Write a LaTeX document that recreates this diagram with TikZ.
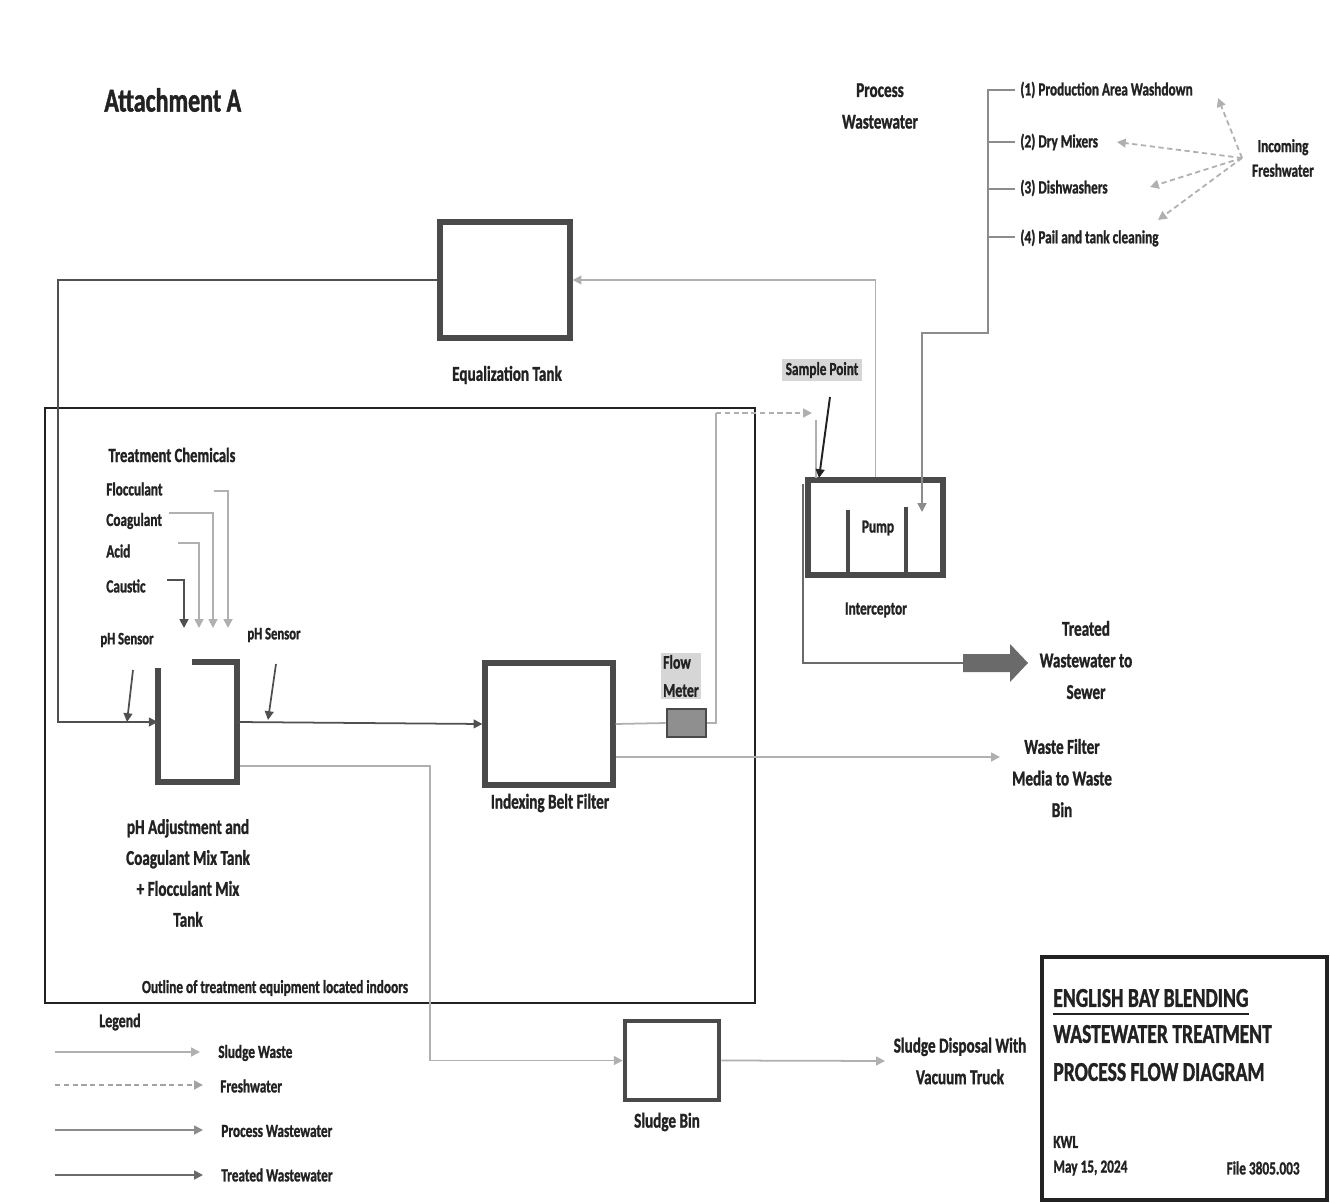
\documentclass[tikz,border=0pt]{standalone}
\usepackage{fontspec}
\setmainfont{Carlito}[FakeStretch=0.72, BoldFeatures={FakeBold=1.2}]
\usetikzlibrary{arrows.meta}
\definecolor{ink}{HTML}{222222}
\definecolor{boxc}{HTML}{4A4A4A}
\definecolor{darkl}{HTML}{505050}
\definecolor{midl}{HTML}{8C8C8C}
\definecolor{lightl}{HTML}{B0B0B0}
\definecolor{treatl}{HTML}{6A6A6A}
\definecolor{labfill}{HTML}{D6D6D6}
\definecolor{fmfill}{HTML}{8F8F8F}
\tikzset{
  lbl/.style={font=\bfseries\fontsize{12}{18}\selectfont, text=ink, inner sep=0pt, align=center},
  sml/.style={font=\bfseries\fontsize{10.5}{14}\selectfont, text=ink, inner sep=0pt},
  ttl/.style={font=\bfseries\fontsize{15.5}{16}\selectfont, text=ink, inner sep=0pt, anchor=west},
  tank/.style={draw=boxc, line width=3pt, inner sep=0pt},
  tip/.style={-{Triangle[length=5pt,width=5pt]}},
  pw/.style={draw=midl, line width=1pt},
  dk/.style={draw=darkl, line width=1pt},
  lt/.style={draw=lightl, line width=1pt},
  tw/.style={draw=treatl, line width=1pt},
  fw/.style={draw=lightl, line width=1pt, dash pattern=on 3pt off 2pt},
}
\begin{document}
\begin{tikzpicture}[x=0.02cm,y=-0.02cm]
\useasboundingbox (0,0) rectangle (1330,1203);
\fill[white] (0,0) rectangle (1330,1203);

% heading
\node[font=\bfseries\fontsize{19}{20}\selectfont, text=ink, inner sep=0pt, anchor=west] (att) at (104,100) {Attachment A};

% outline of indoor equipment
\node[draw=ink, line width=1.3pt, minimum width=14.2cm, minimum height=11.9cm, inner sep=0pt] (outline) at (400,705.5) {};
\node[sml] (outlab) at (275,988) {Outline of treatment equipment located indoors};

% tanks
\node[tank, minimum width=2.6cm, minimum height=2.32cm] (eq) at (505,280) {};
\node[lbl] (eqlab) at (507,375) {Equalization Tank};

\node[tank, minimum width=2.56cm, minimum height=2.44cm] (belt) at (549,724) {};
\node[lbl] (beltlab) at (550,803) {Indexing Belt Filter};

\node[tank, minimum width=2.7cm, minimum height=1.9cm] (int) at (875.5,527.5) {};
\draw[boxc, line width=2pt] (848,510) -- (848,575);
\draw[boxc, line width=2pt] (906,507) -- (906,575);
\node[sml] (pump) at (878,528) {Pump};
\node[sml] (intlab) at (876,610) {Interceptor};

\node[tank, line width=2.6pt, minimum width=1.88cm, minimum height=1.58cm] (bin) at (672,1060.5) {};
\node[lbl] (binlab) at (667,1122) {Sludge Bin};

\node[draw=boxc, fill=fmfill, line width=1.5pt, minimum width=0.78cm, minimum height=0.56cm, inner sep=0pt] (fm) at (686.5,723) {};
\node[font=\bfseries\fontsize{11}{16}\selectfont, text=ink, inner sep=1pt, fill=labfill, align=left] (fmlab) at (681,676) {Flow\\Meter};

% pH adjustment tank (open top)
\node[minimum width=1.58cm, minimum height=2.4cm, inner sep=0pt] (ph) at (197.5,722) {};
\draw[boxc, line width=3pt] (158,668) -- (158,782) -- (237,782) -- (237,662) -- (192,662);
\node[lbl, font=\bfseries\fontsize{12}{17.6}\selectfont] (phlab) at (188,873) {pH Adjustment and\\Coagulant Mix Tank\\+ Flocculant Mix\\Tank};

% treatment chemicals
\node[sml, font=\bfseries\fontsize{11.5}{14}\selectfont] (tchem) at (172,455) {Treatment Chemicals};
\node[sml, anchor=west] (floc) at (106,489) {Flocculant};
\node[sml, anchor=west] (coag) at (106,521) {Coagulant};
\node[sml, anchor=west] (acid) at (106,551) {Acid};
\node[sml, anchor=west] (caus) at (106,586) {Caustic};
\draw[lt,tip] (214,491) -- (228,491) -- (228,628);
\draw[lt,tip] (169,513) -- (213,513) -- (213,628);
\draw[lt,tip] (178,543) -- (199,543) -- (199,628);
\draw[dk,tip] (167,580) -- (184,580) -- (184,628);

% pH sensors
\node[sml, font=\bfseries\fontsize{10}{12}\selectfont] (phs1) at (127,640) {pH Sensor};
\node[sml, font=\bfseries\fontsize{10}{12}\selectfont] (phs2) at (274,635) {pH Sensor};
\draw[dk,tip] (133,670) -- (127,722);
\draw[dk,tip] (276,664) -- (268,720);

% main process line
\draw[dk,tip] (eq.west) -- (58,280) -- (58,722) -- (ph.west);
\draw[dk,tip] (ph.east) -- (belt.west);

% sludge line
\draw[lt,tip] (240,766) -- (430,766) |- (bin.west);
\coordinate (sd) at (885,1061);
\draw[lt,tip] (bin.east) -- (sd);
\node[lbl] (sdlab) at (960,1061) {Sludge Disposal With\\Vacuum Truck};

% waste filter media
\coordinate (wm) at (1000,757);
\draw[lt,tip] (belt.east |- wm) -- (wm);
\node[lbl] (wmlab) at (1062,778) {Waste Filter\\Media to Waste\\Bin};

% flow meter / sample point
\draw[lt] (belt.east) -- (fm.west);
\draw[lt] (fm.east) -- (716,723) -- (716,413);
\coordinate (spin) at (812,413);
\draw[fw,tip] (716,413) -- (spin);
\draw[lt] (816,420) -- (816,478);
\node[sml, fill=labfill, inner sep=2pt] (sp) at (822,370) {Sample Point};
\draw[draw=ink, line width=1.1pt, tip] (830,397) -- (819,478);

% interceptor to equalization tank
\draw[lt,tip] (int.north) -- (int.north |- eq.east) -- (eq.east);

% process wastewater sources
\node[lbl] (pwlab) at (880,106) {Process\\Wastewater};
\draw[pw,tip] (1015,90) -- (988,90) -- (988,333) -- (922,333) -- (922,512);
\draw[pw] (988,142) -- (1015,142);
\draw[pw] (988,189) -- (1015,189);
\draw[pw] (988,237) -- (1015,237);
\node[sml, anchor=west] (s1) at (1020,90) {(1) Production Area Washdown};
\node[sml, anchor=west] (s2) at (1020,142) {(2) Dry Mixers};
\node[sml, anchor=west] (s3) at (1020,188) {(3) Dishwashers};
\node[sml, anchor=west] (s4) at (1020,238) {(4) Pail and tank cleaning};

% incoming freshwater
\node[sml, align=center] (fwlab) at (1283,158) {Incoming\\Freshwater};
\coordinate (fwsrc) at (1242,158);
\draw[fw,tip] (fwsrc) -- (1218,98);
\draw[fw,tip] (fwsrc) -- (1117,142);
\draw[fw,tip] (fwsrc) -- (1150,187);
\draw[fw,tip] (fwsrc) -- (1158,220);

% treated wastewater
\coordinate (tarrow) at (963,663);
\draw[tw] (803,484) -- (803,663) -- (tarrow);
\fill[treatl] (963,654) -- (1010,654) -- (1010,644) -- (1028,663) -- (1010,682) -- (1010,672) -- (963,672) -- cycle;
\node[lbl] (twlab) at (1086,660) {Treated\\Wastewater to\\Sewer};

% legend
\node[sml, font=\bfseries\fontsize{11}{12}\selectfont] (leg) at (120,1022) {Legend};
\draw[lt,tip] (55,1052) -- (200,1052);
\draw[fw,draw=midl!80,tip] (55,1085) -- (203,1085);
\draw[pw,tip] (55,1130) -- (203,1130);
\draw[tw,tip] (55,1175) -- (203,1175);
\node[sml, anchor=west] (l1) at (218,1053) {Sludge Waste};
\node[sml, anchor=west] (l2) at (220,1086) {Freshwater};
\node[sml, anchor=west] (l3) at (221,1131) {Process Wastewater};
\node[sml, anchor=west] (l4) at (221,1175) {Treated Wastewater};

% title block
\node[draw=ink, line width=1.8pt, minimum width=5.7cm, minimum height=4.86cm, inner sep=0pt] (title) at (1184.5,1078.5) {};
\node[ttl] (t1) at (1053,998) {ENGLISH BAY BLENDING};
\draw[ink, line width=1.2pt] (1053,1014) -- (t1.east |- 0,1014);
\node[ttl] (t2) at (1053,1034) {WASTEWATER TREATMENT};
\node[ttl] (t3) at (1053,1072) {PROCESS FLOW DIAGRAM};
\node[sml, anchor=west] (t4) at (1053,1142) {KWL};
\node[sml, anchor=west] (t5) at (1053,1168) {May 15, 2024};
\node[sml, anchor=east] (t6) at (1300,1168) {File 3805.003};
\end{tikzpicture}
\end{document}
